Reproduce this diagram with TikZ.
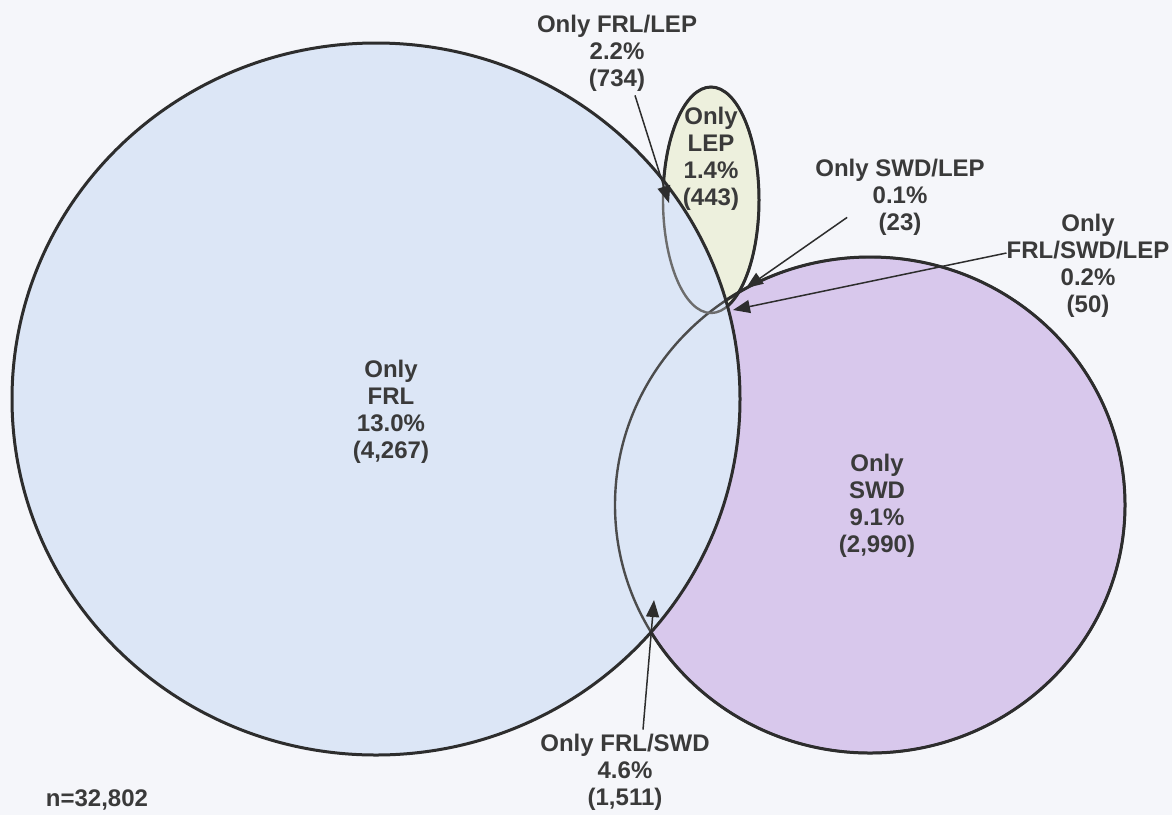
\documentclass[tikz,border=0pt]{standalone}
\usepackage{fontspec}
\setmainfont{Liberation Sans}
\usetikzlibrary{arrows.meta,positioning}
\definecolor{paper}{RGB}{245,246,250}
\definecolor{frlfill}{RGB}{220,230,246}
\definecolor{swdfill}{RGB}{216,200,236}
\definecolor{lepfill}{RGB}{237,240,221}
\definecolor{ink}{RGB}{45,45,45}
\definecolor{txt}{RGB}{58,58,58}
\tikzset{>={Triangle[length=17pt,width=13pt]}}
\tikzset{
  lbl/.style={align=center,inner sep=0pt,text=txt,
    font=\fontsize{24}{27}\selectfont\bfseries},
  rim/.style={draw=ink,line width=3pt},
  pointer/.style={->,draw=ink,line width=1.5pt}
}

\begin{document}
\begin{tikzpicture}[x=1pt,y=-1pt]
        \fill[paper] (0,0) rectangle (1172,815);
        \useasboundingbox (0,0) rectangle (1172,815);
        \coordinate (frlc) at (376,399);
        \coordinate (swdc) at (870,505);
        \coordinate (lepc) at (711,200);
        % sets
        \fill[swdfill] (swdc) ellipse [x radius=255, y radius=248];
        \fill[lepfill] (lepc) ellipse [x radius=48, y radius=113];
        \fill[frlfill] (frlc) ellipse [x radius=364, y radius=356];
        \draw[ink!85,line width=2.4pt] (swdc) ellipse [x radius=255, y radius=248];
        \draw[ink!70,line width=2.4pt] (lepc) ellipse [x radius=48, y radius=113];
        \begin{scope}[even odd rule]
          \clip (0,0) rectangle (1172,815)
            (frlc) ellipse [x radius=364, y radius=356];
          \draw[rim] (swdc) ellipse [x radius=255, y radius=248];
          \draw[rim] (lepc) ellipse [x radius=48, y radius=113];
        \end{scope}
        \draw[rim] (frlc) ellipse [x radius=364, y radius=356];
        % labels
        \node[lbl] (frl) at (391,412) {Only\\FRL\\13.0\%\\(4,267)};
        \node[lbl] (swd) at (877,506) {Only\\SWD\\9.1\%\\(2,990)};
        \node[lbl] (lep) at (711,159) {Only\\LEP\\1.4\%\\(443)};
        \node[lbl] (frllep) at (617,53) {Only FRL/LEP\\2.2\%\\(734)};
        \node[lbl] (swdlep) at (900,197) {Only SWD/LEP\\0.1\%\\(23)};
        \node[lbl] (all) at (1088,266) {Only\\FRL/SWD/LEP\\0.2\%\\(50)};
        \node[lbl] (frlswd) at (625,772) {Only FRL/SWD\\4.6\%\\(1,511)};
        \node[lbl] (total) at (97,800) {n=32,802};
        % pointers
        \coordinate (tipfl) at (669,203);
        \coordinate (tipsl) at (746,288);
        \coordinate (tipall) at (733,310);
        \coordinate (tipfs) at (654,600);
        \draw[pointer] ([xshift=18pt,yshift=-4pt]frllep.south) -- (tipfl);
        \draw[pointer] ([xshift=32pt,yshift=18pt]swdlep.south west) -- (tipsl);
        \draw[pointer] ([yshift=13pt]all.west) -- (tipall);
        \draw[pointer] ([xshift=18pt,yshift=4pt]frlswd.north) -- (tipfs);
\end{tikzpicture}
\end{document}
